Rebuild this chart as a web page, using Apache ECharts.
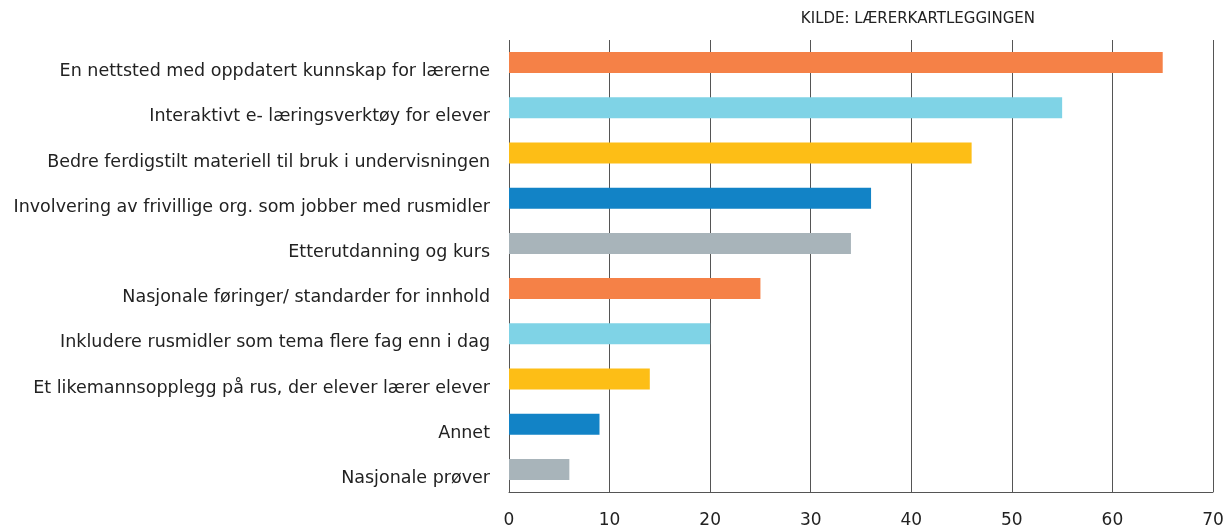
<!DOCTYPE html>
<html>
<head>
<meta charset="utf-8">
<script src="https://cdn.jsdelivr.net/npm/echarts@6/dist/echarts.min.js"></script>
<style>
  html, body { margin: 0; padding: 0; background: #fff; }
  #chart { width: 1228px; height: 529px; }
</style>
</head>
<body>
<div id="chart"></div>
<script>
// kategorier, øverst først
const categories = [
  'En nettsted med oppdatert kunnskap for lærerne',
  'Interaktivt e- læringsverktøy for elever',
  'Bedre ferdigstilt materiell til bruk i undervisningen',
  'Involvering av frivillige org. som jobber med rusmidler',
  'Etterutdanning og kurs',
  'Nasjonale føringer/ standarder for innhold',
  'Inkludere rusmidler som tema flere fag enn i dag',
  'Et likemannsopplegg på rus, der elever lærer elever',
  'Annet',
  'Nasjonale prøver'
]
const values = [65, 55, 46, 36, 34, 25, 20, 14, 9, 6]
const xTicks = [0, 10, 20, 30, 40, 50, 60, 70]

// fargene går i ring
const palette = ['#f58147', '#7fd3e6', '#fdbe16', '#1283c6', '#a8b4ba']

const chart = echarts.init(document.getElementById('chart'))
chart.setOption({
  animation: false,
  textStyle: { fontFamily: '"DejaVu Sans", sans-serif' },
  title: {
    text: 'KILDE: LÆRERKARTLEGGINGEN',
    right: 188,
    top: 7,
    textStyle: { fontSize: 15, fontWeight: 'normal', color: '#222' }
  },
  grid: { left: 509, right: 15, top: 40, bottom: 37 },
  xAxis: {
    type: 'value',
    min: xTicks[0],
    max: xTicks[xTicks.length - 1],
    interval: 10,
    axisLine: { show: true, lineStyle: { color: '#555' } },
    axisTick: { show: false },
    axisLabel: { color: '#222', fontSize: 17, margin: 20 },
    splitLine: { show: true, lineStyle: { color: '#555', width: 1 } }
  },
  yAxis: {
    type: 'category',
    inverse: true,
    data: categories,
    axisLine: { show: false },
    axisTick: { show: false },
    // teksten står litt lavere enn stolpene
    axisLabel: { color: '#222', fontSize: 17.5, margin: 19, verticalAlign: 'top', lineHeight: 18 }
  },
  series: [{
    type: 'bar',
    barWidth: 21,
    data: values.map((v, i) => ({
      value: v,
      itemStyle: { color: palette[i % palette.length] }
    }))
  }]
})
</script>
</body>
</html>
